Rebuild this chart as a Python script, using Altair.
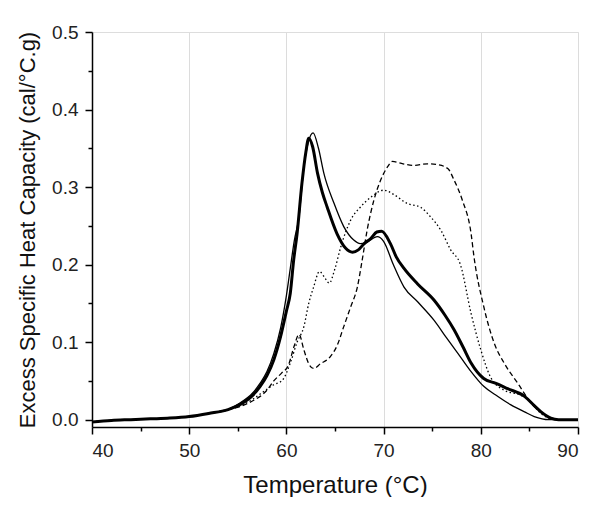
import altair as alt
import pandas as pd

# ---- data ----
base_t = [40, 42, 44, 46, 48, 50, 52, 54]
base_cp = [-0.003, -0.001, 0.000, 0.001, 0.002, 0.004, 0.008, 0.013]

thick_t = base_t + [55.3, 56.5, 57.3, 58.0, 58.7, 59.4, 60.0, 60.4, 60.75, 61.1, 61.6, 62.0, 62.3,
                    62.7, 63.2, 63.7, 64.2, 65.2, 66.1, 66.8, 67.4, 68.0, 68.7, 69.3, 69.8, 70.7,
                    71.3, 72.1, 73.5, 75.2, 76.3, 77.25, 78.2, 79.0, 80.3, 81.5, 82.75, 84.5,
                    85.5, 86.2, 87.2, 88.0, 90.0]
thick_cp = base_cp + [0.020, 0.031, 0.043, 0.057, 0.077, 0.107, 0.140, 0.163, 0.206, 0.240, 0.305, 0.345, 0.363,
                      0.352, 0.318, 0.293, 0.274, 0.240, 0.221, 0.216, 0.219, 0.227, 0.234, 0.242, 0.243, 0.227,
                      0.210, 0.195, 0.175, 0.154, 0.135, 0.116, 0.093, 0.073, 0.053, 0.047, 0.040, 0.030,
                      0.018, 0.010, 0.002, 0.000, 0.000]

thin_t = base_t + [55.3, 56.5, 57.3, 58.0, 58.7, 59.4, 60.0, 60.4, 60.8, 61.3, 61.8, 62.3, 62.75,
                   63.3, 63.85, 64.9, 65.9, 66.9, 67.6, 68.3, 69.35, 70.0, 71.0, 72.1, 73.5, 75.2,
                   76.5, 77.9, 79.0, 80.3, 81.5, 83.1, 84.5, 85.5, 87.0, 90.0]
thin_cp = base_cp + [0.022, 0.034, 0.047, 0.062, 0.085, 0.118, 0.160, 0.195, 0.230, 0.262, 0.326, 0.360, 0.370,
                     0.350, 0.318, 0.279, 0.249, 0.232, 0.227, 0.229, 0.236, 0.230, 0.200, 0.171, 0.152, 0.128,
                     0.105, 0.081, 0.062, 0.043, 0.032, 0.019, 0.010, 0.004, 0.000, 0.000]

dash_t = base_t + [55.5, 56.5, 57.3, 58.0, 58.7, 59.5, 60.2, 60.8, 61.3, 61.8, 62.3, 62.8, 63.5,
                   64.5, 65.2, 65.9, 66.6, 67.3, 67.8, 68.3, 69.0, 69.7, 70.4, 70.9, 72.0, 73.1,
                   74.5, 75.5, 76.6, 77.25, 78.1, 79.0, 79.3, 80.3, 81.4, 82.4, 83.8, 85.2, 86.3,
                   87.3, 88.0, 90.0]
dash_cp = base_cp + [0.018, 0.024, 0.030, 0.038, 0.050, 0.060, 0.070, 0.095, 0.110, 0.090, 0.072, 0.066, 0.072,
                     0.081, 0.095, 0.120, 0.145, 0.171, 0.206, 0.244, 0.283, 0.309, 0.326, 0.333, 0.330, 0.328,
                     0.330, 0.329, 0.324, 0.309, 0.283, 0.240, 0.210, 0.146, 0.098, 0.073, 0.047, 0.021, 0.008,
                     0.001, 0.000, 0.000]

dot_t = base_t + [55.5, 56.5, 57.3, 58.7, 59.6, 60.4, 61.1, 61.8, 62.3, 62.8, 63.4, 64.0, 64.4,
                  65.0, 65.6, 66.6, 67.6, 68.7, 69.5, 70.0, 71.1, 72.4, 73.8, 74.8, 75.9, 76.9,
                  77.9, 79.0, 80.0, 81.0, 82.4, 84.0, 85.0, 86.0, 87.0, 88.0, 90.0]
dot_cp = base_cp + [0.019, 0.026, 0.033, 0.045, 0.051, 0.073, 0.100, 0.120, 0.150, 0.171, 0.191, 0.182, 0.176,
                    0.195, 0.223, 0.257, 0.274, 0.287, 0.294, 0.296, 0.290, 0.279, 0.274, 0.262, 0.244, 0.219,
                    0.200, 0.137, 0.090, 0.055, 0.038, 0.032, 0.025, 0.010, 0.002, 0.000, 0.000]

x_major = [40, 50, 60, 70, 80, 90]
x_minor = [45, 55, 65, 75, 85]
y_major = [0.0, 0.1, 0.2, 0.3, 0.4, 0.5]
y_minor = [0.05, 0.15, 0.25, 0.35, 0.45]

rows = []
for name, ts, cs in [("thick", thick_t, thick_cp), ("thin", thin_t, thin_cp),
                     ("dashed", dash_t, dash_cp), ("dotted", dot_t, dot_cp)]:
    for t, c in zip(ts, cs):
        rows.append({"series": name, "T": t, "Cp": c})
df = pd.DataFrame(rows)

FONT = "Liberation Sans"
xs = alt.Scale(domain=[40, 90], nice=False, zero=False)
ys = alt.Scale(domain=[-0.0095, 0.5], nice=False, zero=False)

x_axis = alt.Axis(values=x_major, title="Temperature (°C)", grid=True, gridColor="#dcdcdc",
                  gridWidth=1, tickSize=7, tickWidth=1.5, tickColor="black", domainColor="black",
                  domainWidth=1.5, labelFont=FONT, labelFontSize=19, labelColor="#222",
                  labelPadding=7, titleFont=FONT, titleFontSize=24, titleFontWeight="normal",
                  titleColor="#111", titlePadding=13, orient="bottom")
y_axis = alt.Axis(values=y_major, format=".1f", title="Excess Specific Heat Capacity (cal/°C.g)",
                  grid=False, tickSize=7, tickWidth=1.5, tickColor="black", domainColor="black",
                  domainWidth=1.5, labelFont=FONT, labelFontSize=19, labelColor="#222",
                  labelPadding=7, titleFont=FONT, titleFontSize=22, titleFontWeight="normal",
                  titleColor="#111", titlePadding=12, orient="left")
x_axis_minor = alt.Axis(values=x_minor, labels=False, title=None, grid=False, domain=False,
                        tickSize=4, tickWidth=1.5, tickColor="black", orient="bottom")
y_axis_minor = alt.Axis(values=y_minor, labels=False, title=None, grid=False, domain=False,
                        tickSize=4, tickWidth=1.5, tickColor="black", orient="left")


def line(name, width, dash=None, xa=None, ya=None, opacity=1.0):
    kw = dict(color="black", strokeWidth=width, interpolate="monotone", clip=True, opacity=opacity)
    if dash:
        kw["strokeDash"] = dash
    return alt.Chart(df).transform_filter(alt.datum.series == name).mark_line(**kw).encode(
        x=alt.X("T:Q", scale=xs, axis=xa),
        y=alt.Y("Cp:Q", scale=ys, axis=ya),
    )


minor = line("thick", 1, xa=x_axis_minor, ya=y_axis_minor, opacity=0)
l_dash = line("dashed", 1.3, [5, 3], x_axis, y_axis)
l_dot = line("dotted", 1.3, [1.5, 2.5])
l_thin = line("thin", 1.3)
l_thick = line("thick", 3.0)

chart = alt.layer(minor, l_dash, l_dot, l_thin, l_thick).resolve_axis(
    x="independent", y="independent"
).properties(
    width=486, height=395,
    autosize=alt.AutoSizeParams(type="none"),
    padding={"left": 84, "top": 24, "right": 14, "bottom": 70},
).configure_view(stroke="black", strokeWidth=1.5).configure(background="white")

chart.save("out.html", embed_options={"renderer": "svg", "actions": False})
